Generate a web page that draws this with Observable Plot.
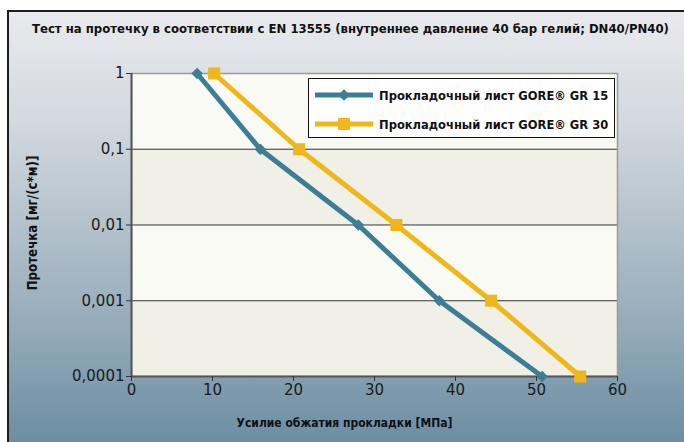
<!DOCTYPE html>
<html>
<head>
<meta charset="utf-8">
<script src="https://cdn.jsdelivr.net/npm/d3@7"></script>
<script src="https://cdn.jsdelivr.net/npm/@observablehq/plot@0.6"></script>
<style>
  html, body { margin: 0; padding: 0; width: 684px; height: 442px; overflow: hidden; background: #fff; }
  #bg { position: absolute; left: 7px; top: 10px; right: 0; bottom: 0;
        border-left: 2px solid #1c1c1c; border-top: 2px solid #1c1c1c;
        background: linear-gradient(to bottom, #e9eaee 0%, #d3d9df 25%, #b3c1cb 50%, #92a9b8 75%, #6b8ea3 100%); }
  #title { position: absolute; left: 32px; top: 21px;
           font-family: "DejaVu Sans Condensed", sans-serif; font-weight: bold;
           font-size: 13px; color: #111; white-space: nowrap; }
  #chart { position: absolute; left: 0; top: 0; }
  #legend { position: absolute; left: 308px; top: 78px; width: 305px; height: 58px; background: #fff;
            border: 1.5px solid #111; font-family: "DejaVu Sans Condensed", sans-serif;
            font-weight: bold; font-size: 12.8px; color: #111; }
  .row { position: absolute; left: 6px; height: 20px; display: flex; align-items: center; white-space: nowrap; }
  .row svg { margin-right: 6px; }
</style>
</head>
<body>
<div id="bg"></div>
<div id="title">Тест на протечку в соответствии с EN 13555 (внутреннее давление 40 бар гелий; DN40/PN40)</div>
<div id="chart"></div>
<div id="legend"></div>
<script>
const xTicks = [0, 10, 20, 30, 40, 50, 60];
const yTicks = [1, 0.1, 0.01, 0.001, 0.0001];
const seriesNames = ["Прокладочный лист GORE® GR 15", "Прокладочный лист GORE® GR 30"];
const pressureGR15 = [8.1, 15.9, 28.0, 38.0, 50.7];
const leakGR15 = [1, 0.1, 0.01, 0.001, 0.0001];
const pressureGR30 = [10.2, 20.7, 32.7, 44.4, 55.4];
const leakGR30 = [1, 0.1, 0.01, 0.001, 0.0001];
const xLabel = "Усилие обжатия прокладки [МПа]";
const yLabel = "Протечка [мг/(с*м)]";

const colors = ["#3e7e94", "#f0b71b"];
const symbols = ["diamond2", "square"];
const radii = [5.2, 6.8];

const gr15 = pressureGR15.map((x, i) => ({x, y: leakGR15[i]}));
const gr30 = pressureGR30.map((x, i) => ({x, y: leakGR30[i]}));
const bands = d3.pairs(yTicks);

const condensed = '"DejaVu Sans Condensed", sans-serif';

const plot = Plot.plot({
  width: 684,
  height: 442,
  marginLeft: 131,
  marginRight: 67,
  marginTop: 73,
  marginBottom: 66,
  style: {background: "transparent", fontFamily: '"DejaVu Sans", sans-serif', color: "#1a1a1a", overflow: "visible"},
  x: {domain: [0, 60]},
  y: {type: "log", domain: [0.0001, 1]},
  marks: [
    Plot.rect(bands.filter((_, i) => i % 2 === 0), {y1: d => d[0], y2: d => d[1], fill: "#fafaf5"}),
    Plot.rect(bands.filter((_, i) => i % 2 === 1), {y1: d => d[0], y2: d => d[1], fill: "#f0f0e7"}),
    Plot.ruleY(yTicks.slice(1, -1), {stroke: "#3a3a3a", strokeWidth: 1.2}),
    Plot.frame({stroke: "#9a9a9a", strokeWidth: 1.5}),
    Plot.ruleX([0], {stroke: "#555", strokeWidth: 2}),
    Plot.ruleY([0.0001], {stroke: "#555", strokeWidth: 2}),
    Plot.axisX({ticks: xTicks, tickSize: 5, tickPadding: 3, fontSize: 15, label: null, stroke: "#333"}),
    Plot.axisY({ticks: yTicks, tickSize: 5, tickPadding: 2, fontSize: 15, label: null, stroke: "#333",
                tickFormat: d => String(d).replace(".", ",")}),
    Plot.line(gr15, {x: "x", y: "y", stroke: colors[0], strokeWidth: 5}),
    Plot.dot(gr15, {x: "x", y: "y", symbol: symbols[0], r: radii[0], fill: colors[0], stroke: null}),
    Plot.line(gr30, {x: "x", y: "y", stroke: colors[1], strokeWidth: 5}),
    Plot.dot(gr30, {x: "x", y: "y", symbol: symbols[1], r: radii[1], fill: colors[1], stroke: null}),
    Plot.text([xLabel], {frameAnchor: "bottom", dy: 50, dx: -30, textAnchor: "middle", fontWeight: "bold", fontSize: 12, fontFamily: condensed, fill: "#111"}),
    Plot.text([yLabel], {frameAnchor: "left", dx: -99, dy: -2, rotate: -90, textAnchor: "middle", fontWeight: "bold", fontSize: 13.2, fontFamily: condensed, fill: "#111"})
  ]
});
document.getElementById("chart").appendChild(plot);

// legend
const legend = document.getElementById("legend");
seriesNames.forEach((name, i) => {
  const row = document.createElement("div");
  row.className = "row";
  row.style.top = (i === 0 ? 6 : 35) + "px";
  const sw = d3.create("svg").attr("width", 58).attr("height", 20);
  sw.append("line").attr("x1", 0).attr("x2", 58).attr("y1", 10).attr("y2", 10)
    .attr("stroke", colors[i]).attr("stroke-width", 5);
  const sym = i === 0 ? d3.symbolDiamond2 : d3.symbolSquare;
  sw.append("path").attr("transform", "translate(29,10)")
    .attr("d", d3.symbol(sym, Math.PI * radii[i] * radii[i])()).attr("fill", colors[i]);
  row.appendChild(sw.node());
  const t = document.createElement("span");
  t.textContent = name;
  row.appendChild(t);
  legend.appendChild(row);
});
</script>
</body>
</html>
